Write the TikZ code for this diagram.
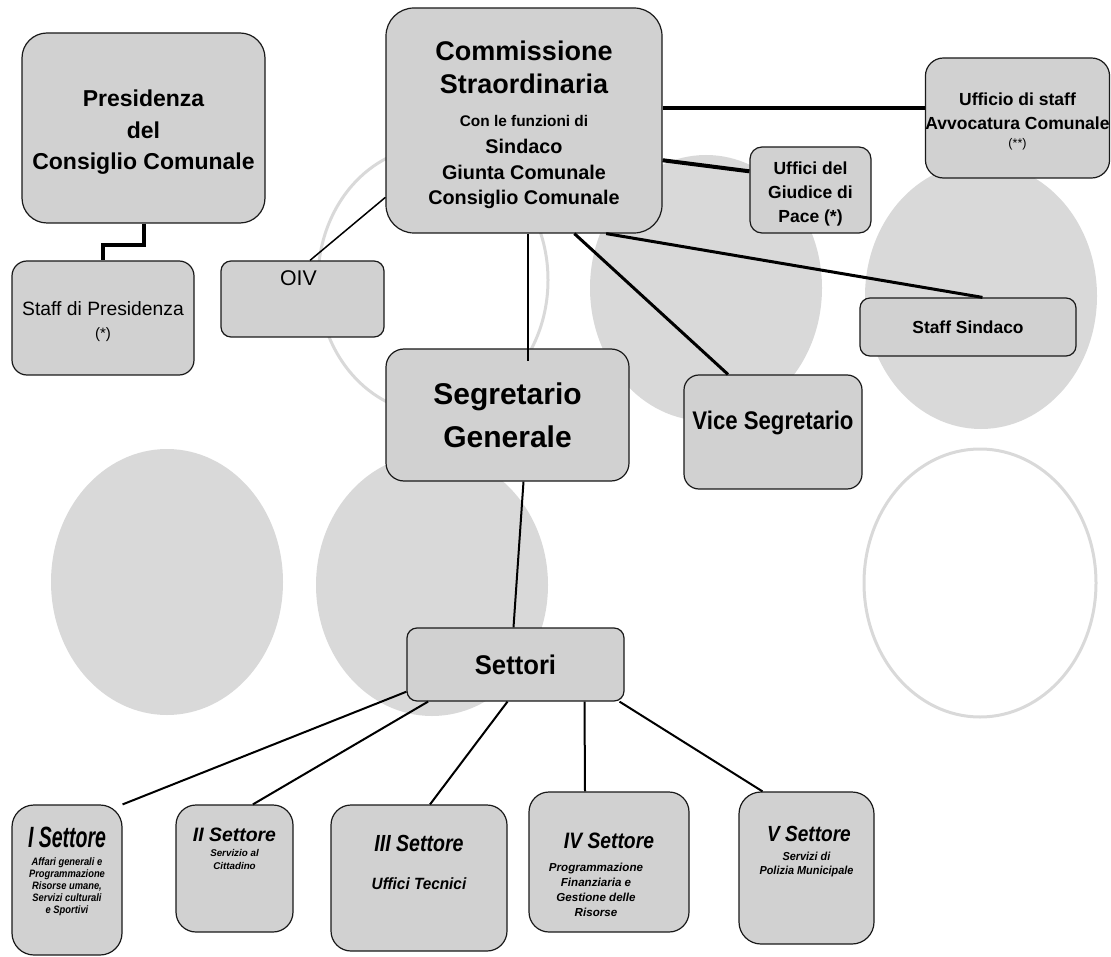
\documentclass[tikz,border=0pt]{standalone}
\usepackage{fontspec}
\setmainfont{Liberation Sans}
\usepackage{tikz}
\definecolor{boxgray}{gray}{0.82}
\definecolor{blobgray}{gray}{0.85}
\newcommand{\fsz}[2]{\fontsize{#1}{#2}\selectfont}
\newcommand{\narrow}[1]{\addfontfeature{FakeStretch=#1}}
\newcommand{\lift}[1]{\rule{0pt}{#1}}
\tikzstyle{box} = [draw=black!90, fill=boxgray, line width=1.2pt, inner sep=0pt, align=center]
\tikzstyle{txt} = [inner sep=0pt, align=center]
\tikzstyle{link} = [line width=2pt]
\tikzstyle{thicklink} = [line width=4pt]
\tikzstyle{blob} = [fill=blobgray]
\tikzstyle{ring} = [draw=blobgray, line width=3pt]

\begin{document}
\begin{tikzpicture}[x=1pt, y=-1pt]
  \useasboundingbox (0,0) rectangle (1111,957);

  % background ellipses
  \fill[blob] (706,288) ellipse [x radius=116pt, y radius=133pt];
  \fill[blob] (981,296) ellipse [x radius=116pt, y radius=133pt];
  \fill[blob] (167,582) ellipse [x radius=116pt, y radius=133pt];
  \fill[blob] (432,585) ellipse [x radius=116pt, y radius=131pt];
  \draw[ring] (433,280) ellipse [x radius=115pt, y radius=133pt];
  \draw[ring] (980,583) ellipse [x radius=116pt, y radius=134pt];

  % top row
  \node[box, minimum width=243pt, minimum height=190pt, rounded corners=25pt, font=\bfseries\fsz{23}{31.7}] at (143.5,128) (Pres) {\lift{25pt}Presidenza\\del\\Consiglio Comunale};
  \node[box, minimum width=182pt, minimum height=114pt, rounded corners=15pt, font=\fsz{19.3}{23}] at (103,318) (StaffP) {\lift{22pt}Staff di Presidenza\\{\fsz{15}{16}(*)}};
  \node[box, minimum width=163pt, minimum height=76pt, rounded corners=10pt] at (302.5,299) (OIV) {};
  \node[txt, anchor=base, font=\fsz{21.3}{22}] at ([xshift=-4pt,yshift=-25pt]OIV.north) (OIVt) {OIV};
  \node[box, minimum width=276pt, minimum height=225pt, rounded corners=28pt, font=\bfseries\fsz{19.8}{25}] at (524,120.5) (Comm)
    {{\fsz{27}{28}\lift{29pt}Commissione}\\[8pt]{\fsz{27}{28}Straordinaria}\\[7.7pt]{\fsz{15.4}{16}Con le funzioni di}\\[1.6pt]Sindaco\\[1.7pt]Giunta Comunale\\Consiglio Comunale};
  \node[box, minimum width=181pt, minimum height=120pt, rounded corners=18pt, font=\bfseries\fsz{17.5}{24}] at (1017.5,118) (Avv)
    {\lift{19pt}Ufficio di staff\\Avvocatura Comunale\\[-5.6pt]{\mdseries\fsz{12.5}{13}(**)}};
  \node[box, minimum width=121pt, minimum height=86pt, rounded corners=12pt, font=\bfseries\fsz{17.5}{24}] at (810.5,190) (Giud) {\lift{20pt}Uffici del\\Giudice di\\Pace (*)};
  \node[box, minimum width=216pt, minimum height=58pt, rounded corners=10pt, font=\bfseries\fsz{17.4}{18}] at (968,327) (StaffS) {Staff Sindaco};

  % middle
  \node[box, minimum width=243pt, minimum height=132pt, rounded corners=18pt, font=\bfseries\fsz{30}{43.3}] at (507.5,415) (Segr) {Segretario\\Generale};
  \node[box, minimum width=178pt, minimum height=114pt, rounded corners=15pt] at (773,432) (Vice) {};
  \node[txt, anchor=base, font=\bfseries\fsz{25.5}{26}\narrow{0.87}] at ([yshift=-55pt]Vice.north) (Vicet) {Vice Segretario};
  \node[box, minimum width=217pt, minimum height=73pt, rounded corners=10pt, font=\bfseries\fsz{27}{28}\narrow{0.95}] at (515.5,664.5) (Sett) {Settori};

  % settori
  \node[box, minimum width=110pt, minimum height=150pt, rounded corners=22pt] at (67,880) (S1) {};
  \node[txt, anchor=base, font=\bfseries\itshape\fsz{29.3}{30}\narrow{0.665}] at ([yshift=-43pt]S1.north) (S1t) {I Settore};
  \node[txt, anchor=north, font=\bfseries\itshape\fsz{10.75}{12}\narrow{0.87}] at ([yshift=-53pt]S1.north) (S1s)
    {Affari generali e\\Programmazione\\Risorse umane,\\Servizi culturali\\e Sportivi};

  \node[box, minimum width=117pt, minimum height=127pt, rounded corners=20pt] at (234.5,868.5) (S2) {};
  \node[txt, anchor=base, font=\bfseries\itshape\fsz{19.4}{20}] at ([yshift=-37pt]S2.north) (S2t) {II Settore};
  \node[txt, anchor=north, font=\bfseries\itshape\fsz{9.8}{13}] at ([yshift=-45pt]S2.north) (S2s) {Servizio al\\Cittadino};

  \node[box, minimum width=176pt, minimum height=146pt, rounded corners=20pt] at (419,878) (S3) {};
  \node[txt, anchor=base, font=\bfseries\itshape\fsz{23.3}{24}\narrow{0.84}] at ([yshift=-47pt]S3.north) (S3t) {III Settore};
  \node[txt, anchor=base, font=\bfseries\itshape\fsz{16.3}{17}\narrow{0.94}] at ([yshift=-85pt]S3.north) (S3s) {Uffici Tecnici};

  \node[box, minimum width=160pt, minimum height=140pt, rounded corners=20pt] at (609,862) (S4) {};
  \node[txt, anchor=base, font=\bfseries\itshape\fsz{22.3}{23}\narrow{0.865}] at ([yshift=-57pt]S4.north) (S4t) {IV Settore};
  \node[txt, anchor=north, font=\bfseries\itshape\fsz{11.6}{15}] at ([xshift=-13pt,yshift=-71.5pt]S4.north) (S4s)
    {Programmazione\\Finanziaria e\\Gestione delle\\Risorse};

  \node[box, minimum width=135pt, minimum height=152pt, rounded corners=22pt] at (806.5,868) (S5) {};
  \node[txt, anchor=base, font=\bfseries\itshape\fsz{21.9}{22}\narrow{0.87}] at ([xshift=2.5pt,yshift=-50pt]S5.north) (S5t) {V Settore};
  \node[txt, anchor=north, font=\bfseries\itshape\fsz{11.6}{14}\narrow{0.94}] at ([yshift=-60.5pt]S5.north) (S5s) {Servizi di\\Polizia Municipale};

  % connectors
  \draw[thicklink] (Pres.south) -- ++(0,21) -| (StaffP.north);
  \draw[link, line width=1.5pt] (Comm.209) -- (OIV.79);
  \draw[thicklink] (Comm.5) -- (Comm.5 -| Avv.west);
  \draw[thicklink] (Comm.344) -- (Giud.163);
  \draw[link, line width=3pt] (Comm.306) -- (StaffS.64);
  \draw[link, line width=3pt] (Comm.294) -- (Vice.128);
  \draw[link] ([xshift=4pt]Comm.south) -- ([xshift=20.5pt,yshift=-13pt]Segr.north);
  \draw[link] ([xshift=16pt]Segr.south) -- ([xshift=-2pt]Sett.north);
  \draw[link] (Sett.194) -- (S1.north east);
  \draw[link] (Sett.203) -- (S2.74);
  \draw[link] ([xshift=-8pt]Sett.south) -- ([xshift=11pt]S3.north);
  \draw[link] ([xshift=69pt]Sett.south) -- ([xshift=-24pt]S4.north);
  \draw[link] ([xshift=104pt]Sett.south) -- ([xshift=-44pt]S5.north);
\end{tikzpicture}
\end{document}
